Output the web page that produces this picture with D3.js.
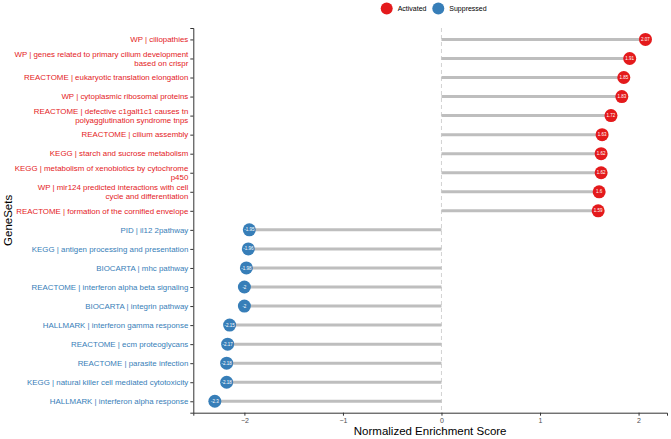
<!DOCTYPE html>
<html><head><meta charset="utf-8">
<script src="https://cdn.jsdelivr.net/npm/d3@7"></script>
<style>body{margin:0;background:#fff}svg{display:block;font-family:"Liberation Sans",Arial,sans-serif}</style>
</head><body><svg id="c" width="671" height="439"></svg>
<script>
const genesets = [
  "WP | ciliopathies",
  "WP | genes related to primary cilium development\nbased on crispr",
  "REACTOME | eukaryotic translation elongation",
  "WP | cytoplasmic ribosomal proteins",
  "REACTOME | defective c1galt1c1 causes tn\npolyagglutination syndrome tnps",
  "REACTOME | cilium assembly",
  "KEGG | starch and sucrose metabolism",
  "KEGG | metabolism of xenobiotics by cytochrome\np450",
  "WP | mir124 predicted interactions with cell\ncycle and differentiation",
  "REACTOME | formation of the cornified envelope",
  "PID | il12 2pathway",
  "KEGG | antigen processing and presentation",
  "BIOCARTA | mhc pathway",
  "REACTOME | interferon alpha beta signaling",
  "BIOCARTA | integrin pathway",
  "HALLMARK | interferon gamma response",
  "REACTOME | ecm proteoglycans",
  "REACTOME | parasite infection",
  "KEGG | natural killer cell mediated cytotoxicity",
  "HALLMARK | interferon alpha response"
];
const nes = [2.07,1.91,1.85,1.83,1.72,1.63,1.62,1.62,1.6,1.59,
  -1.95,-1.96,-1.98,-2,-2,-2.15,-2.17,-2.18,-2.18,-2.3];
const status = ["Activated","Activated","Activated","Activated","Activated","Activated","Activated","Activated","Activated","Activated",
  "Suppressed","Suppressed","Suppressed","Suppressed","Suppressed","Suppressed","Suppressed","Suppressed","Suppressed","Suppressed"];
const groups = ["Activated","Suppressed"];
const groupColors = ["#e41a1c","#377eb8"];
const xTicks = [-2,-1,0,1,2];

const svg = d3.select("#c");
const L = 193.3, R = 667, T = 28, B = 412.7;
const lo = d3.min(nes), hi = d3.max(nes), pad = (hi-lo)*0.05;
const x = d3.scaleLinear().domain([lo-pad, hi+pad]).range([L, R]);
const y = d3.scalePoint().domain(genesets).range([T, B]).padding(0.6);
const col = d3.scaleOrdinal().domain(groups).range(groupColors);
const data = genesets.map((g,i)=>({g, v:nes[i], s:status[i]}));

// zero line
svg.append("line").attr("x1",x(0)).attr("x2",x(0)).attr("y1",T).attr("y2",B)
  .attr("stroke","#c8c8c8").attr("stroke-width",0.8).attr("stroke-dasharray","4,3");

// segments
svg.append("g").selectAll("line").data(data).join("line")
  .attr("x1",x(0)).attr("x2",d=>x(d.v)).attr("y1",d=>y(d.g)).attr("y2",d=>y(d.g))
  .attr("stroke","#bebebe").attr("stroke-width",3);

// points
svg.append("g").selectAll("circle").data(data).join("circle")
  .attr("cx",d=>x(d.v)).attr("cy",d=>y(d.g)).attr("r",6.5).attr("fill",d=>col(d.s));
svg.append("g").selectAll("text").data(data).join("text")
  .attr("x",d=>x(d.v)).attr("y",d=>y(d.g)).attr("dy","0.35em")
  .attr("text-anchor","middle").attr("fill","#fff").attr("font-size",4.5).text(d=>String(d.v));

// y axis
const ya = svg.append("g").attr("transform",`translate(${L},0)`)
  .call(d3.axisLeft(y).tickSize(3).tickPadding(2).tickFormat(""));
ya.select(".domain").attr("stroke","#333").attr("stroke-width",1);
ya.selectAll(".tick line").attr("stroke","#333");
const lab = svg.append("g");
data.forEach(d=>{
  const lines = d.g.split("\n");
  const lh = 8.6;
  const t = lab.append("text").attr("text-anchor","end").attr("font-size",7.9)
    .attr("fill",col(d.s));
  lines.forEach((ln,k)=>{
    t.append("tspan").attr("x",L-5)
     .attr("y", y(d.g) + (k - (lines.length-1)/2)*lh).attr("dy","0.35em").text(ln);
  });
});

// x axis
const xa = svg.append("g").attr("transform",`translate(0,${B})`)
  .call(d3.axisBottom(x).tickValues(xTicks).tickSize(3).tickPadding(2).tickFormat(d3.format("d")));
xa.select(".domain").attr("stroke","#333").attr("stroke-width",1);
xa.selectAll(".tick line").attr("stroke","#333");
xa.selectAll(".tick text").attr("fill","#4d4d4d").attr("font-size",7).attr("font-family","Liberation Sans, Arial, sans-serif");

// titles
svg.append("text").attr("x",(L+R)/2).attr("y",435).attr("text-anchor","middle")
  .attr("font-size",11.5).attr("fill","#000").text("Normalized Enrichment Score");
svg.append("text").attr("transform",`translate(12,${(T+B)/2}) rotate(-90)`).attr("text-anchor","middle")
  .attr("font-size",11.5).attr("fill","#000").text("GeneSets");

// legend
const lg = svg.append("g");
const lx = [386.7, 438.3];
groups.forEach((g,i)=>{
  lg.append("circle").attr("cx",lx[i]).attr("cy",8.5).attr("r",6).attr("fill",col(g));
  lg.append("text").attr("x",lx[i]+11).attr("y",8.5).attr("dy","0.35em").attr("font-size",7)
    .attr("fill","#000").text(g);
});
</script></body></html>
